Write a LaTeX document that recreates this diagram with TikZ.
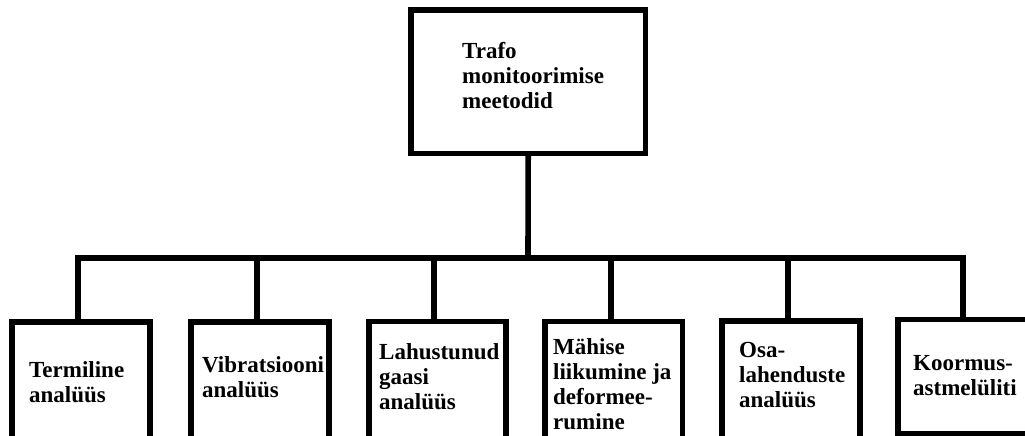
\documentclass[tikz,border=0pt]{standalone}
\usepackage{fontspec}
\setmainfont{Liberation Serif}
\begin{document}
\begin{tikzpicture}[x=1pt,y=-1pt,
  box/.style={draw=black,line width=5.6pt,fill=white,inner sep=0pt},
  % anchored on the baseline of the last line
  lbl/.style={anchor=base west,align=left,inner sep=0pt,
    font=\bfseries\fontsize{23}{25}\selectfont},
  link/.style={draw=black,line width=5.6pt}]
\useasboundingbox (0,0) rectangle (1025,436);
\clip (0,0) rectangle (1025,436);

% root box
\node[box,minimum width=234.5pt,minimum height=143pt] (root) at (528.2,81.8) {};
\node[lbl] (troot) at (462,108) {Trafo\\monitoorimise\\meetodid};

% leaf boxes
\node[box,minimum width=137.5pt,minimum height=118pt] (b1) at (81,381) {};
\node[box,minimum width=137.6pt,minimum height=118pt] (b2) at (260,381) {};
\node[box,minimum width=137pt,minimum height=118.3pt] (b3) at (437.3,380.8) {};
\node[box,minimum width=137.7pt,minimum height=118.5pt] (b4) at (613.6,380.7) {};
\node[box,minimum width=137.5pt,minimum height=118.8pt] (b5) at (791,380.6) {};
\node[box,minimum width=142pt,minimum height=114.5pt] (b6) at (969,376.8) {};

% labels
\node[lbl] (t1) at (29,402) {Termiline\\analüüs};
\node[lbl] (t2) at (202,397) {Vibratsiooni\\analüüs};
\node[lbl] (t3) at (379,409) {Lahustunud\\gaasi\\analüüs};
\node[lbl] (t4) at (553,429) {Mähise\\liikumine ja\\deformee-\\rumine};
\node[lbl] (t5) at (739,407) {Osa-\\lahenduste\\analüüs};
\node[lbl] (t6) at (913,395) {Koormus-\\astmelüliti};

% bus and drop points
\coordinate (bus) at (528,258);
\coordinate (d1) at (78,258);
\coordinate (d2) at (257,258);
\coordinate (d3) at (434,258);
\coordinate (d4) at (611,258);
\coordinate (d5) at (788,258);
\coordinate (d6) at (963,258);

\path[link] (root.south) -- (bus);
\path[link,line cap=rect] (d1) -- (d6);
\path[link] (d1) -- (d1 |- b1.north);
\path[link] (d2) -- (d2 |- b2.north);
\path[link] (d3) -- (d3 |- b3.north);
\path[link] (d4) -- (d4 |- b4.north);
\path[link] (d5) -- (d5 |- b5.north);
\path[link] (d6) -- (d6 |- b6.north);
\end{tikzpicture}
\end{document}
